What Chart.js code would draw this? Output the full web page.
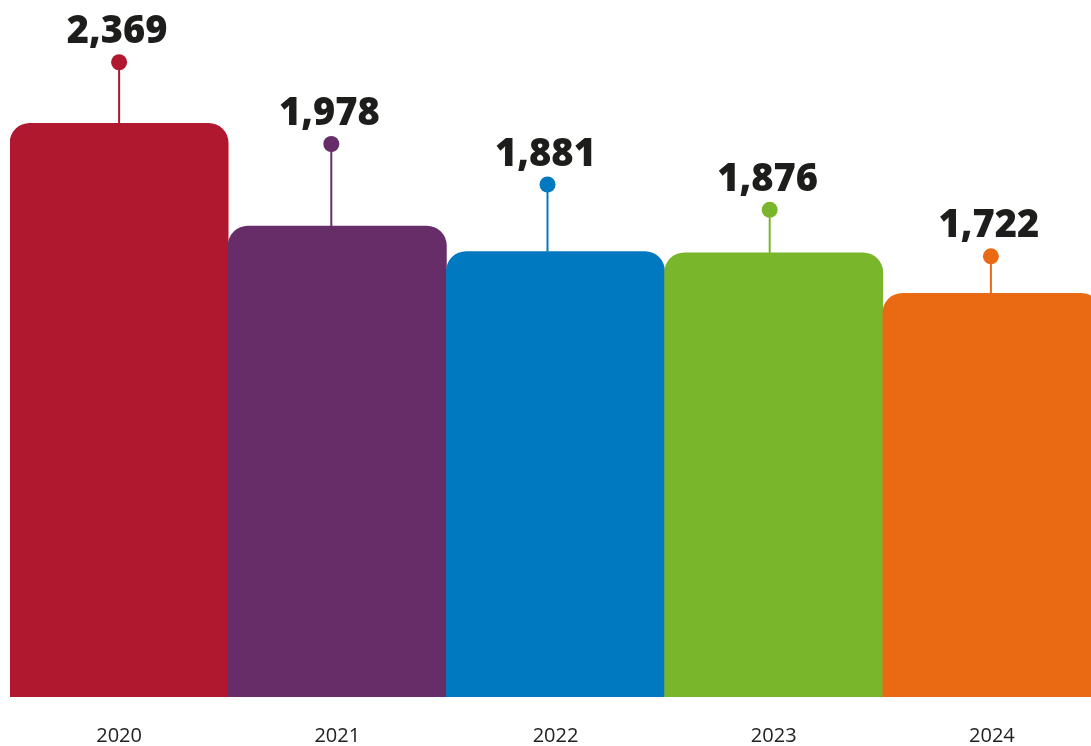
<!DOCTYPE html>
<html>
<head>
<meta charset="utf-8">
<script src="https://cdn.jsdelivr.net/npm/chart.js@4"></script>
<style>
  html, body { margin: 0; padding: 0; background: #fff; overflow: hidden; }
  #wrap { width: 1101px; height: 775px; }
</style>
</head>
<body>
<div id="wrap"><canvas id="chart"></canvas></div>
<script>
const years = ["2020", "2021", "2022", "2023", "2024"];
const totals = [2369, 1978, 1881, 1876, 1722];
const colores = ["#B0182F", "#672D69", "#0079C1", "#7AB62B", "#EA6A14"];

// largo del palito y corrimiento horizontal de cada marcador (solo decorativo)
const stemLen = [61, 82, 67, 43, 37];
const stemDx = [0, -6, -8, -4, -1];

const lollipops = {
  id: "lollipops",
  afterDatasetsDraw(chart) {
    const ctx = chart.ctx;
    const meta = chart.getDatasetMeta(0);
    meta.data.forEach((bar, i) => {
      const x = bar.x + stemDx[i];
      const top = bar.y;
      const dotY = top - stemLen[i];
      ctx.save();
      ctx.strokeStyle = colores[i];
      ctx.lineWidth = 2;
      ctx.beginPath();
      ctx.moveTo(x, top);
      ctx.lineTo(x, dotY);
      ctx.stroke();
      ctx.fillStyle = colores[i];
      ctx.beginPath();
      ctx.arc(x, dotY, 8, 0, Math.PI * 2);
      ctx.fill();
      ctx.fillStyle = "#1d1d1b";
      ctx.font = "800 38px 'Open Sans'";
      ctx.textAlign = "center";
      ctx.textBaseline = "alphabetic";
      ctx.fillText(totals[i].toLocaleString("en-US"), x - 2, dotY - 19);
      ctx.restore();
    });
  },
};

const ctx = document.getElementById("chart").getContext("2d");
const myChart = new Chart(ctx, {
  type: "bar",
  data: {
    labels: years,
    datasets: [
      {
        label: "Total",
        data: totals,
        backgroundColor: colores,
        borderWidth: 0,
        borderRadius: { topLeft: 20, topRight: 20, bottomLeft: 0, bottomRight: 0 },
        borderSkipped: false,
        barPercentage: 1,
        categoryPercentage: 1,
      },
    ],
  },
  options: {
    responsive: true,
    maintainAspectRatio: false,
    animation: false,
    layout: { padding: { left: 10, right: 0, top: 0, bottom: 0 } },
    plugins: {
      legend: { display: false },
      tooltip: { enabled: false },
    },
    scales: {
      x: {
        grid: { display: false, drawTicks: false },
        border: { display: false },
        ticks: {
          padding: 29,
          color: "#222",
          font: { family: "'Open Sans'", size: 20, lineHeight: 1 },
        },
      },
      y: {
        display: false,
        min: 186,
        max: 2838,
      },
    },
  },
  plugins: [lollipops],
});
</script>
</body>
</html>
